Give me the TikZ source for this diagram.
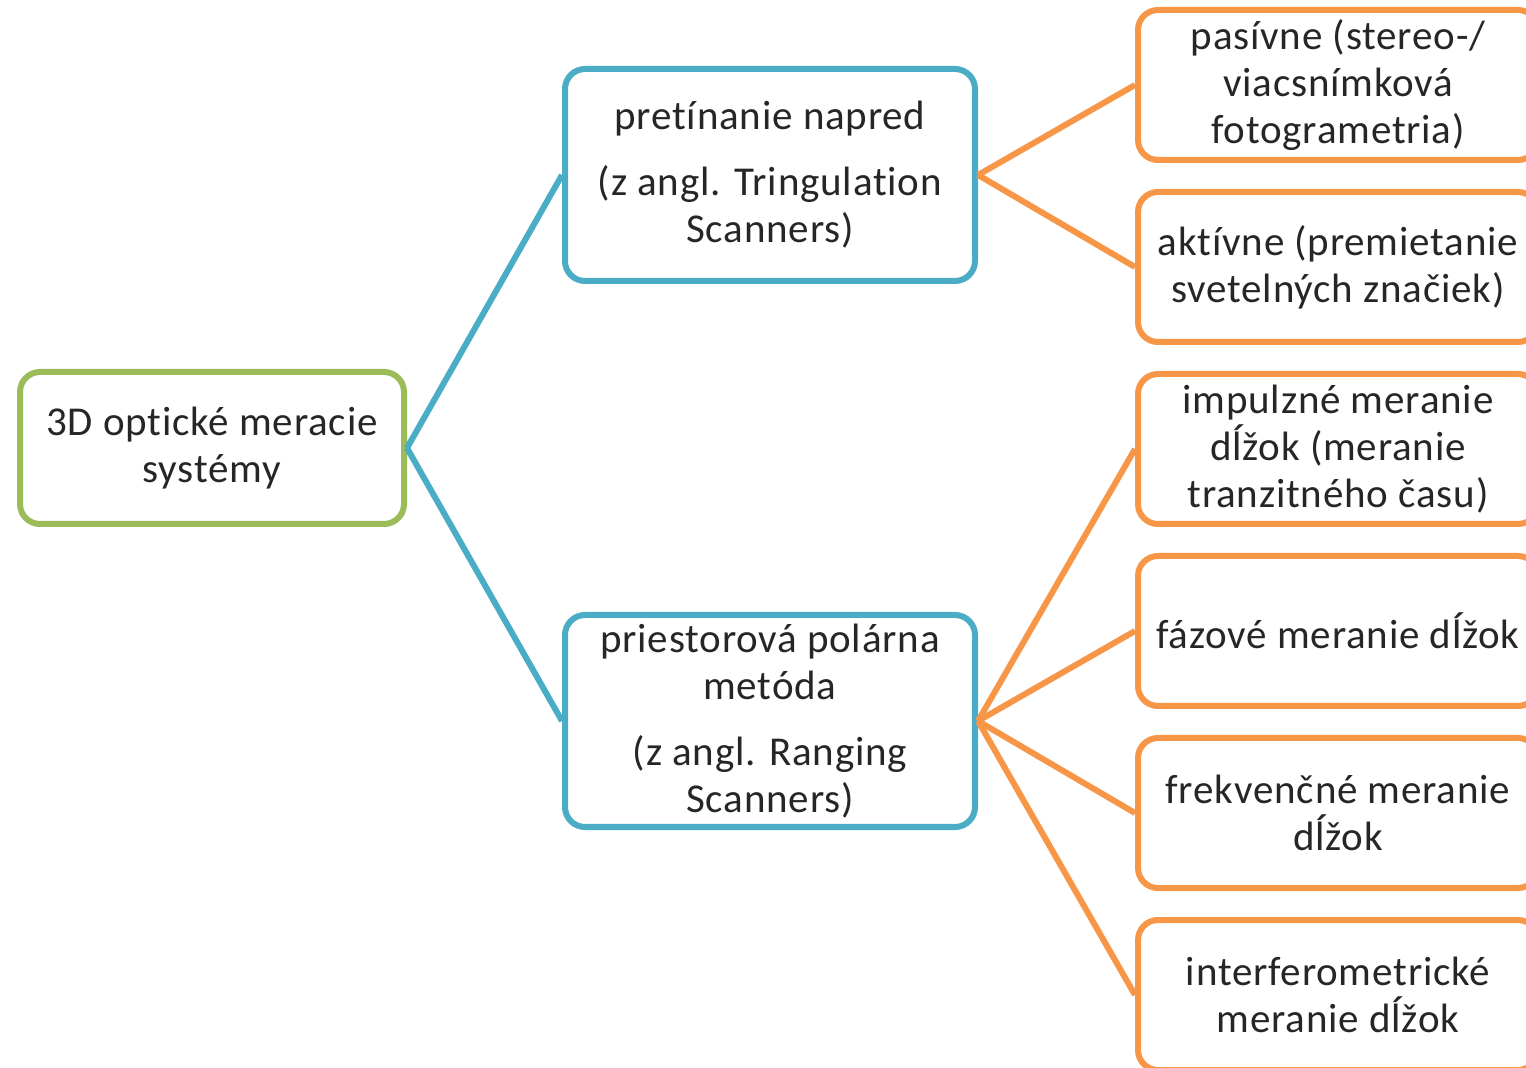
\documentclass[tikz,border=0pt]{standalone}
\usepackage{fontspec}
\setmainfont[LetterSpace=2,Ligatures=NoCommon]{Carlito}
\definecolor{cgreen}{HTML}{9BBB59}
\definecolor{cblue}{HTML}{4BACC6}
\definecolor{corange}{HTML}{F79646}
\definecolor{ctext}{HTML}{262626}
\begin{document}
\begin{tikzpicture}[x=0.5pt,y=-0.5pt,
  box/.style={draw, line width=3pt, rounded corners=10pt, fill=white, inner sep=0pt,
    align=center, text=ctext, font=\fontsize{20.5pt}{23.5pt}\selectfont},
  gbox/.style={box, draw=cgreen, minimum width=192pt, minimum height=76pt},
  bbox/.style={box, draw=cblue, minimum width=205pt, minimum height=106pt},
  obox/.style={box, draw=corange, minimum width=200pt, minimum height=75pt},
  bline/.style={draw=cblue, line width=3pt},
  oline/.style={draw=corange, line width=3pt}]
\useasboundingbox (0,0) rectangle (1526,1068);
\node[gbox] (root) at (212,448) {3D optické meracie\\systémy};
\node[bbox] (tri) at (770,175) {pretínanie napred\\[9.5pt](z angl. Tringulation\\Scanners)};
\node[bbox] (rng) at (770,721) {priestorová polárna\\metóda\\[9.5pt](z angl. Ranging\\Scanners)};
\node[obox] (o1) at (1338,85) {pasívne (stereo-/\\viacsnímková\\fotogrametria)};
\node[obox] (o2) at (1338,267) {aktívne (premietanie\\svetelných značiek)};
\node[obox] (o3) at (1338,449) {impulzné meranie\\dĺžok (meranie\\tranzitného času)};
\node[obox] (o4) at (1338,631) {fázové meranie dĺžok};
\node[obox] (o5) at (1338,813) {frekvenčné meranie\\dĺžok};
\node[obox] (o6) at (1338,995) {interferometrické\\meranie dĺžok};
\draw[bline] (root.east) -- (tri.west);
\draw[bline] (root.east) -- (rng.west);
\draw[oline] (tri.east) -- (o1.west);
\draw[oline] (tri.east) -- (o2.west);
\draw[oline] (rng.east) -- (o3.west);
\draw[oline] (rng.east) -- (o4.west);
\draw[oline] (rng.east) -- (o5.west);
\draw[oline] (rng.east) -- (o6.west);
\end{tikzpicture}
\end{document}
